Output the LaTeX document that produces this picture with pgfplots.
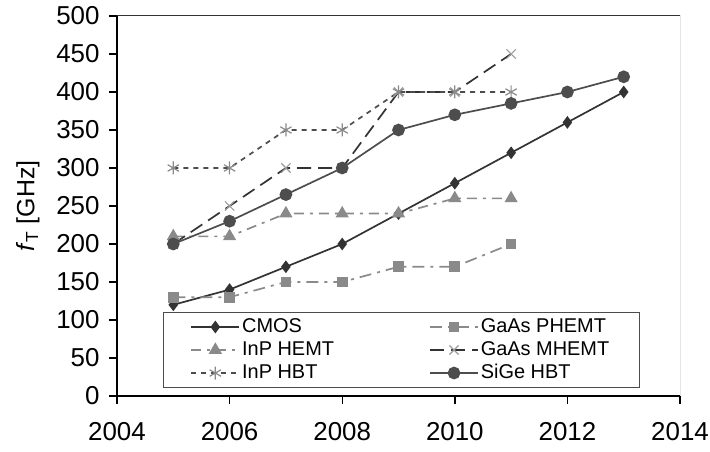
\documentclass[border=0pt]{standalone}
\usepackage{pgfplots}
\pgfplotsset{compat=1.18}
\usepackage{fontspec}
\setmainfont{Liberation Sans}
\definecolor{dk}{HTML}{333333}
\definecolor{md}{HTML}{4d4d4d}
\definecolor{gr}{HTML}{8a8a8a}
\definecolor{lg}{HTML}{9a9a9a}
\begin{document}
\begin{tikzpicture}
\begin{axis}[
  scale only axis, width=563bp, height=380bp,
  xmin=2004, xmax=2014, ymin=0, ymax=500,
  xtick={2004,2006,...,2014}, ytick={0,50,...,500},
  axis lines*=left, axis line style={line width=1.6bp, black},
  tick align=outside, major tick length=8bp, tick style={line width=1.4bp, black},
  /pgf/number format/assume math mode=true,
  every tick label/.append style={font=\fontsize{26}{29}\selectfont},
  x tick label style={/pgf/number format/1000 sep={}, yshift=-15bp},
  y tick label style={xshift=-6bp},
  ylabel={\textit{f}\textsubscript{T} [GHz]},
  ylabel style={font=\fontsize{25}{28}\selectfont, at={(rel axis cs:0,0.5)}, anchor=south, yshift=74bp},
  legend columns=2,
  legend cell align=left,
  legend style={at={(rel axis cs:0.0817,0.021)}, anchor=south west,
    draw=black!70, line width=1bp, inner xsep=27bp, inner ysep=4.5bp,
    font=\fontsize{20}{22}\selectfont, row sep=3bp,
    nodes={text height=14bp, text depth=4bp, inner ysep=1bp}},
  legend image code/.code={\draw[mark repeat=2,mark phase=2,#1] plot coordinates {(0bp,0bp)(24bp,0bp)(48bp,0bp)};},
]
\addplot[dk, line width=1.7bp, mark=diamond*, mark size=5bp, mark options={solid, fill=dk}]
 coordinates {(2005,120)(2006,140)(2007,170)(2008,200)(2009,240)(2010,280)(2011,320)(2012,360)(2013,400)};
\addlegendentry{\makebox[185bp][l]{CMOS}}
\addplot[gr, line width=1.7bp, dash pattern=on 12bp off 6bp on 3bp off 6bp, mark=square*, mark size=4.5bp, mark options={solid, fill=gr}]
 coordinates {(2005,130)(2006,130)(2007,150)(2008,150)(2009,170)(2010,170)(2011,200)};
\addlegendentry{\makebox[130bp][l]{GaAs PHEMT}}
\addplot[gr, line width=1.7bp, dash pattern=on 10bp off 6bp on 3bp off 6bp, mark=triangle*, mark size=6bp, mark options={solid, fill=gr}]
 coordinates {(2005,210)(2006,210)(2007,240)(2008,240)(2009,240)(2010,260)(2011,260)};
\addlegendentry{\makebox[185bp][l]{InP HEMT}}
\addplot[dk, line width=1.7bp, dash pattern=on 14bp off 7bp, mark=x, mark size=6.5bp, mark options={solid, lg, line width=1.2bp}]
 coordinates {(2005,200)(2006,250)(2007,300)(2008,300)(2009,400)(2010,400)(2011,450)};
\addlegendentry{\makebox[130bp][l]{GaAs MHEMT}}
\addplot[md, line width=1.7bp, dash pattern=on 5bp off 5bp, mark=asterisk, mark size=6.5bp, mark options={solid, gr, line width=1.2bp}]
 coordinates {(2005,300)(2006,300)(2007,350)(2008,350)(2009,400)(2010,400)(2011,400)};
\addlegendentry{\makebox[185bp][l]{InP HBT}}
\addplot[md, line width=1.7bp, mark=*, mark size=5.5bp, mark options={solid, fill=md}]
 coordinates {(2005,200)(2006,230)(2007,265)(2008,300)(2009,350)(2010,370)(2011,385)(2012,400)(2013,420)};
\addlegendentry{\makebox[130bp][l]{SiGe HBT}}
\draw[line width=1bp, black!80] (rel axis cs:0,1) -- (rel axis cs:1,1) -- (rel axis cs:1,0);
\end{axis}
\pgfresetboundingbox
\path (-117bp,-56bp) rectangle (593bp,396bp);
\end{tikzpicture}
\end{document}
